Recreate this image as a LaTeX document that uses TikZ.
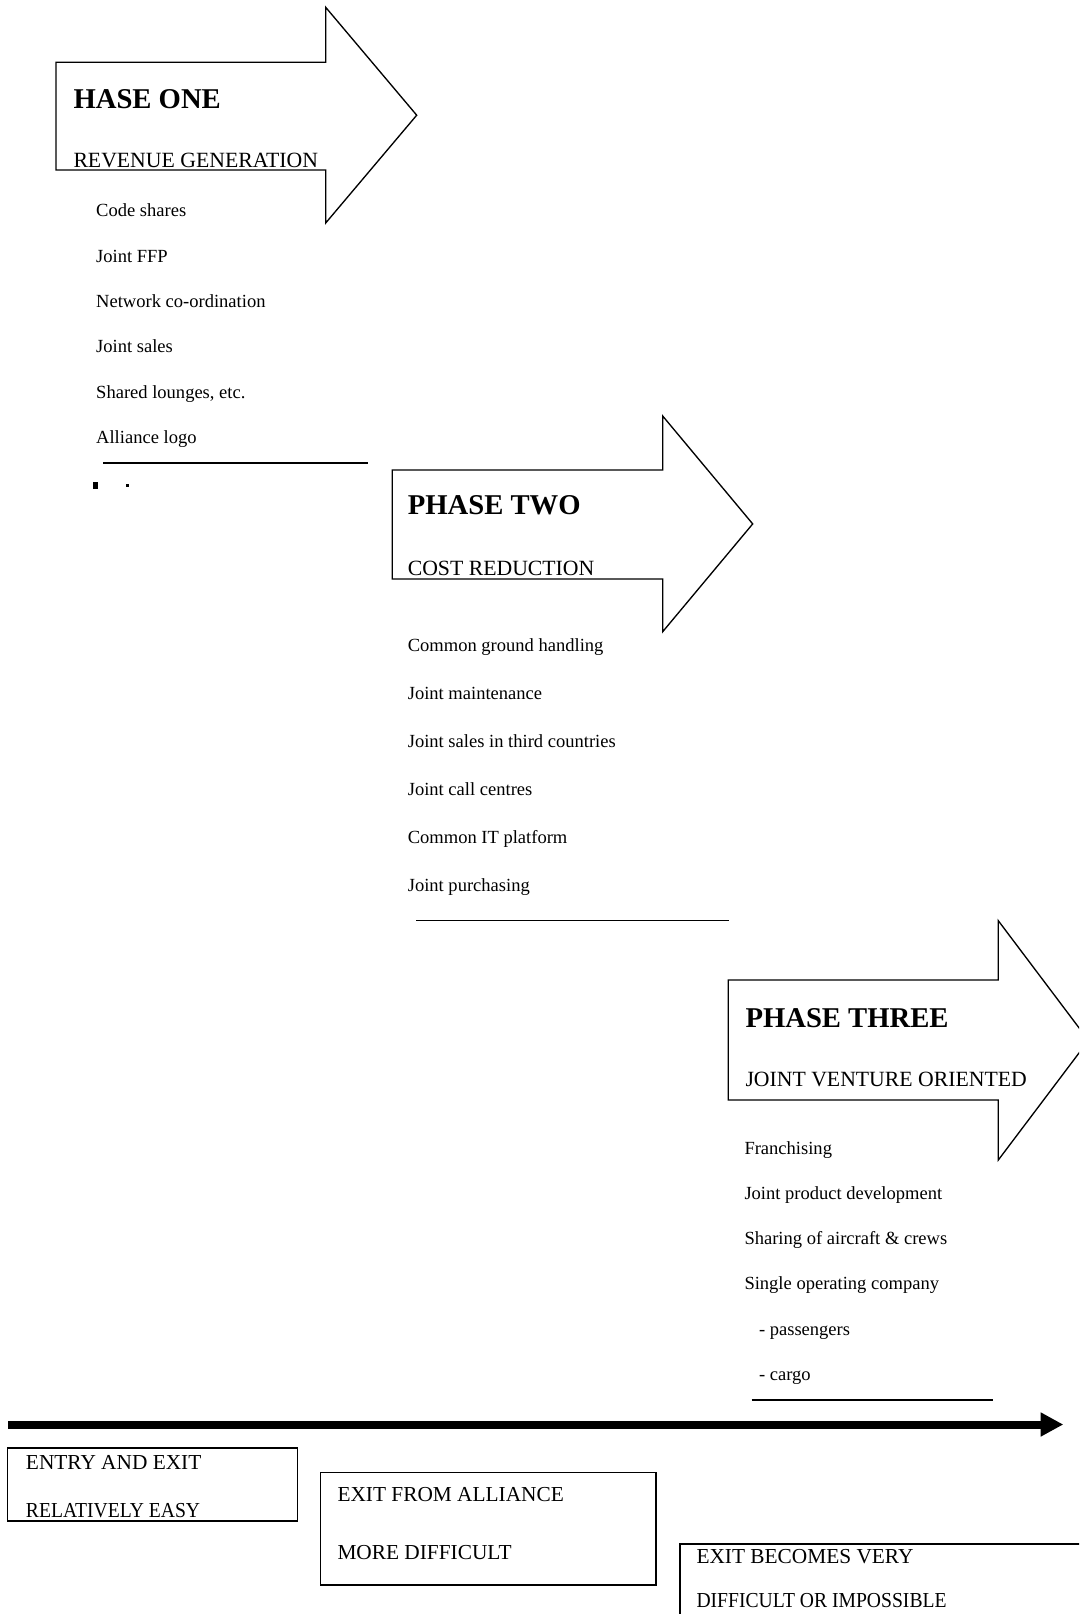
\documentclass[tikz,border=0pt]{standalone}
\usepackage{fontspec}
\setmainfont{Liberation Serif}
\newfontfamily\narrowserif[FakeStretch=0.92]{Liberation Serif}
\usetikzlibrary{arrows.meta}

\tikzset{every picture/.style={line width=0.75pt}}
\tikzset{
	phasearrow/.style={draw, line width=1pt, fill=white},
	phasehead/.style={anchor=base west, inner sep=0pt, font=\fontsize{21.5}{24}\selectfont\bfseries},
	phasesub/.style={anchor=base west, inner sep=0pt, font=\fontsize{16.3}{19}\selectfont},
	itemtext/.style={anchor=base west, inner sep=0pt, font=\fontsize{13.9}{16}\selectfont},
	exitbox/.style={draw, line width=1.1pt},
	exittext/.style={anchor=base west, inner sep=0pt, font=\fontsize{16}{19}\selectfont},
	rule/.style={draw, line width=1.4pt}}

\begin{document}
\begin{tikzpicture}[x=0.75pt,y=0.75pt,yscale=-1,xscale=1]
	\useasboundingbox (0,0) rectangle (1079,1614);
	\clip (0,0) rectangle (1079,1614);

	%Right Arrow [id:phaseone] 
	\draw  [phasearrow] (56,62.3) -- (325.7,62.3) -- (325.7,7.3) -- (416.7,115.2) -- (325.7,223) -- (325.7,170) -- (56,170) -- cycle ;
	%Right Arrow [id:phasetwo] 
	\draw  [phasearrow] (392.3,470) -- (662.7,470) -- (662.7,416) -- (752.7,523.9) -- (662.7,631.7) -- (662.7,579) -- (392.3,579) -- cycle ;
	%Right Arrow [id:phasethree] 
	\draw  [phasearrow] (728.3,980) -- (998.3,980) -- (998.3,920.7) -- (1088.5,1040.4) -- (998.3,1160) -- (998.3,1100) -- (728.3,1100) -- cycle ;

	% Text Node
	\draw (73,108) node [phasehead] (headone) {HASE ONE};
	% Text Node
	\draw (73,167) node [phasesub] (subone) {REVENUE GENERATION};
	% Text Node
	\draw (407.3,514.5) node [phasehead] (headtwo) {PHASE TWO};
	% Text Node
	\draw (407.3,575.7) node [phasesub] (subtwo) {COST REDUCTION};
	% Text Node
	\draw (745,1027) node [phasehead] (headthree) {PHASE THREE};
	% Text Node
	\draw (745,1086) node [phasesub] (subthree) {JOINT VENTURE ORIENTED};

	% Text Node
	\draw (95.7,216.7) node [itemtext] (codeshare) {Code shares};
	% Text Node
	\draw (95.7,262.1) node [itemtext] (jointffp) {Joint FFP};
	% Text Node
	\draw (95.7,307.5) node [itemtext] (network) {Network co-ordination};
	% Text Node
	\draw (95.7,352.9) node [itemtext] (jointsales) {Joint sales};
	% Text Node
	\draw (95.7,398.3) node [itemtext] (lounges) {Shared lounges, etc.};
	% Text Node
	\draw (95.7,443.7) node [itemtext] (logo) {Alliance logo};
	%Straight Lines [id:ruleone] 
	\draw  [rule] (103.3,463.3) -- (368.3,463.3) ;
	%Shape: Rectangle [id:cutmarks] 
	\fill (93,482) rectangle (97.5,489) ;
	\fill (126,484) rectangle (128.5,487) ;

	% Text Node
	\draw (407.3,651.7) node [itemtext] (handling) {Common ground handling};
	% Text Node
	\draw (407.3,699.7) node [itemtext] (maintenance) {Joint maintenance};
	% Text Node
	\draw (407.3,747.7) node [itemtext] (thirdsales) {Joint sales in third countries};
	% Text Node
	\draw (407.3,795.7) node [itemtext] (callcentre) {Joint call centres};
	% Text Node
	\draw (407.3,843.7) node [itemtext] (itplatform) {Common IT platform};
	% Text Node
	\draw (407.3,891.7) node [itemtext] (purchasing) {Joint purchasing};
	%Straight Lines [id:ruletwo] 
	\draw  [rule] (416,920.5) -- (729,920.5) ;

	% Text Node
	\draw (744,1154) node [itemtext] (franchise) {Franchising};
	% Text Node
	\draw (744,1199.3) node [itemtext] (product) {Joint product development};
	% Text Node
	\draw (744,1244.6) node [itemtext] (crews) {Sharing of aircraft \& crews};
	% Text Node
	\draw (744,1289.9) node [itemtext] (company) {Single operating company};
	% Text Node
	\draw (758.5,1335.2) node [itemtext] (passengers) {- passengers};
	% Text Node
	\draw (758.5,1380.5) node [itemtext] (cargo) {- cargo};
	%Straight Lines [id:rulethree] 
	\draw  [rule] (751.7,1400) -- (993.3,1400) ;

	%Straight Lines [id:timeline] 
	\coordinate (timestart) at (8.3,1424.5);
	\coordinate (timeend) at (1063.3,1424.5);
	\draw  [line width=6pt, -{Triangle[length=17pt,width=17pt]}] (timestart) -- (timeend) ;

	%Shape: Rectangle [id:exitone] 
	\draw  [exitbox] (7.3,1447.8) rectangle (297.3,1521) ;
	%Shape: Rectangle [id:exittwo] 
	\draw  [exitbox] (320.7,1472.3) rectangle (655.8,1585) ;
	%Shape: Rectangle [id:exitthree] 
	\draw  [exitbox] (680,1544) rectangle (1100,1640) ;

	% Text Node
	\draw (25.5,1469) node [exittext] (entryexit) {ENTRY AND EXIT};
	% Text Node
	\draw (25.5,1517) node [exittext] (easy) {\narrowserif RELATIVELY EASY};
	% Text Node
	\draw (337,1501) node [exittext] (exitfrom) {EXIT FROM ALLIANCE};
	% Text Node
	\draw (337,1559.3) node [exittext] (harder) {MORE DIFFICULT};
	% Text Node
	\draw (696,1563.3) node [exittext] (becomes) {EXIT BECOMES VERY};
	% Text Node
	\draw (696,1607.5) node [exittext] (impossible) {\narrowserif DIFFICULT OR IMPOSSIBLE};

\end{tikzpicture}
\end{document}
